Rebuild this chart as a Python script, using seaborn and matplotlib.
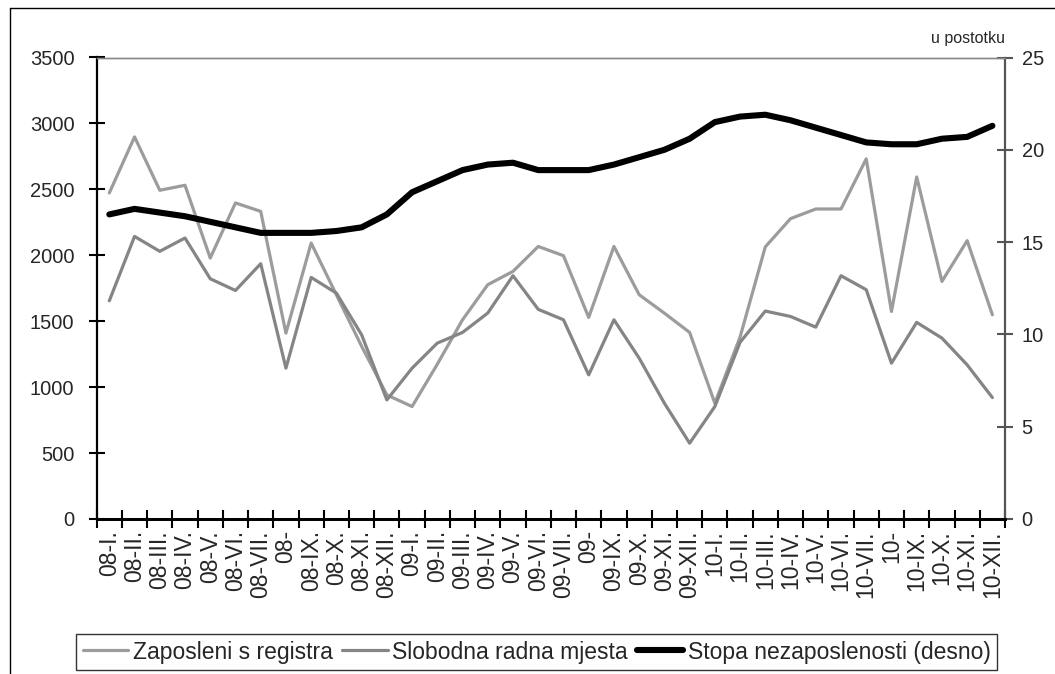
import numpy as np
import pandas as pd
import matplotlib
matplotlib.use("Agg")
import matplotlib.pyplot as plt
from matplotlib.lines import Line2D
from matplotlib.ticker import FixedLocator, NullFormatter
import seaborn as sns

# ---- data ----
months = ["08-I.", "08-II.", "08-III.", "08-IV.", "08-V.", "08-VI.", "08-VII.", "08-",
          "08-IX.", "08-X.", "08-XI.", "08-XII.",
          "09-I.", "09-II.", "09-III.", "09-IV.", "09-V.", "09-VI.", "09-VII.", "09-",
          "09-IX.", "09-X.", "09-XI.", "09-XII.",
          "10-I.", "10-II.", "10-III.", "10-IV.", "10-V.", "10-VI.", "10-VII.", "10-",
          "10-IX.", "10-X.", "10-XI.", "10-XII."]
zaposleni = [2473, 2898, 2493, 2531, 1979, 2397, 2333, 1410, 2093, 1700, 1310, 941,
             853, 1174, 1511, 1777, 1878, 2067, 1997, 1529, 2067, 1701, 1561, 1415,
             878, 1380, 2064, 2278, 2351, 2351, 2731, 1574, 2594, 1802, 2111, 1549]
slobodna = [1655, 2143, 2030, 2131, 1822, 1733, 1936, 1144, 1832, 1713, 1397, 903,
            1144, 1334, 1415, 1562, 1845, 1590, 1511, 1093, 1511, 1220, 878, 575,
            853, 1340, 1577, 1536, 1455, 1845, 1739, 1182, 1491, 1372, 1169, 921]
stopa = [16.5, 16.8, 16.6, 16.4, 16.1, 15.8, 15.5, 15.5, 15.5, 15.6, 15.8, 16.5,
         17.7, 18.3, 18.9, 19.2, 19.3, 18.9, 18.9, 18.9, 19.2, 19.6, 20.0, 20.6,
         21.5, 21.8, 21.9, 21.6, 21.2, 20.8, 20.4, 20.3, 20.3, 20.6, 20.7, 21.3]
series_names = ["Zaposleni s registra", "Slobodna radna mjesta", "Stopa nezaposlenosti (desno)"]
left_ticks = [0, 500, 1000, 1500, 2000, 2500, 3000, 3500]
right_ticks = [0, 5, 10, 15, 20, 25]
unit_label = "u postotku"

df = pd.DataFrame({"pos": np.arange(len(months)), "month": months,
                   "zap": zaposleni, "slob": slobodna, "stopa": stopa})

sns.set_theme(style="white")
plt.rcParams['font.family'] = ['Liberation Sans', 'DejaVu Sans']

W, H = 1055, 674
fig = plt.figure(figsize=(W / 100, H / 100), dpi=100)
ax = fig.add_axes([96.7 / W, 1 - 519 / H, (1005 - 96.7) / W, (519 - 57.5) / H])
ax2 = ax.twinx()

c_zap = "#9c9c9c"
c_slob = "#858585"
sns.lineplot(data=df, x="pos", y="zap", ax=ax, color=c_zap, linewidth=2.3,
             label=series_names[0], legend=False)
sns.lineplot(data=df, x="pos", y="slob", ax=ax, color=c_slob, linewidth=2.3,
             label=series_names[1], legend=False)
sns.lineplot(data=df, x="pos", y="stopa", ax=ax2, color="black", linewidth=4.4,
             label=series_names[2], legend=False, solid_capstyle="round")

n = len(months)
ax.set_xlim(-0.5, n - 0.5)
ax.set_ylim(0, 3500)
ax2.set_ylim(0, 25)
ax.set_xlabel("")
ax.set_ylabel("")
ax2.set_ylabel("")

ax.set_yticks(left_ticks)
ax.set_yticklabels([str(t) for t in left_ticks], fontsize=14.5)
ax2.set_yticks(right_ticks)
ax2.set_yticklabels([str(t) for t in right_ticks], fontsize=14.5)

ax.set_xticks(np.arange(n))
ax.set_xticklabels(months, rotation=90, fontsize=16.5, va="top", ha="center")
ax.xaxis.set_minor_locator(FixedLocator(np.arange(-0.5, n, 1.0)))
ax.xaxis.set_minor_formatter(NullFormatter())
ax.tick_params(axis="x", which="major", length=0, pad=8)
ax.tick_params(axis="x", which="minor", length=13, width=1.5, direction="inout", color="black", bottom=True)
ax.tick_params(axis="y", length=12, width=1.5, direction="inout", color="black", pad=10, left=True)
ax2.tick_params(axis="y", length=12, width=1.5, direction="inout", color="#555555", pad=6, right=True)

for a in (ax, ax2):
    for s in a.spines.values():
        s.set_visible(True)
ax.spines["left"].set_color("black"); ax.spines["left"].set_linewidth(1.6)
ax.spines["bottom"].set_color("black"); ax.spines["bottom"].set_linewidth(2.0)
ax2.spines["bottom"].set_color("black"); ax2.spines["bottom"].set_linewidth(2.0)
ax2.spines["right"].set_color("#555555"); ax2.spines["right"].set_linewidth(1.6)
ax.spines["right"].set_visible(False)
ax2.spines["left"].set_visible(False)
for a in (ax, ax2):
    a.spines["top"].set_color("#888888"); a.spines["top"].set_linewidth(1.0)
ax.grid(False); ax2.grid(False)

fig.text(1005 / W, 1 - 38 / H, unit_label, ha="right", va="center", fontsize=11.5)

handles = [Line2D([], [], color=c_zap, lw=2.3), Line2D([], [], color=c_slob, lw=2.3),
           Line2D([], [], color="black", lw=4.4)]
leg = fig.legend(handles, series_names, loc="center", bbox_to_anchor=(536.5 / W, 1 - 652 / H),
                 ncol=3, frameon=True, fancybox=False, fontsize=16.5, handlelength=2.0,
                 handletextpad=0.2, columnspacing=0.4, borderpad=0.3, borderaxespad=0)
leg.get_frame().set_edgecolor("black")
leg.get_frame().set_linewidth(1.0)

# outer frame (top and left edges)
fig.add_artist(Line2D([10 / W, 1.0], [1 - 8 / H, 1 - 8 / H], color="black", lw=1.0))
fig.add_artist(Line2D([10 / W, 10 / W], [0.0, 1 - 8 / H], color="black", lw=1.0))

fig.savefig("out.png", dpi=100)
